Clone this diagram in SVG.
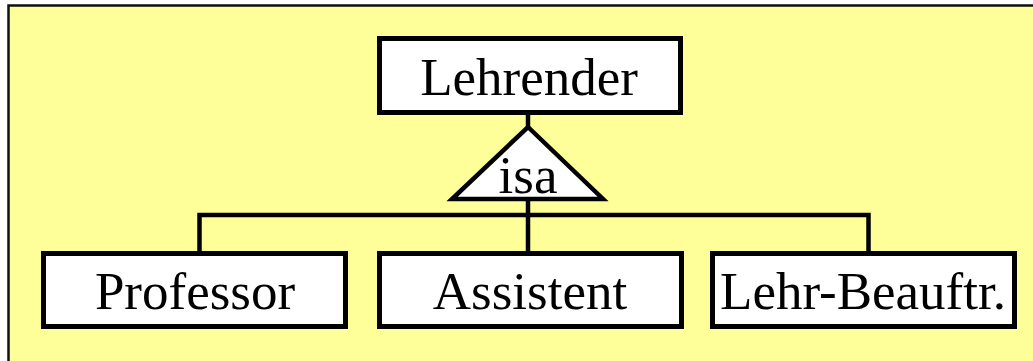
<svg xmlns="http://www.w3.org/2000/svg" width="1033" height="361" viewBox="0 0 1033 361">
<style>
.bg{fill:#FFFF99;stroke:#111;stroke-width:2.5}
.box{fill:#fff;stroke:#000;stroke-width:5}
.tri{fill:#fff;stroke:#000;stroke-width:4.5;stroke-linejoin:miter}
.ln{fill:none;stroke:#000;stroke-width:4.5}
text{font-family:"Liberation Serif","Times New Roman",serif;font-size:53px;fill:#000;text-anchor:middle}
</style>
<rect class="bg" x="8.5" y="5.5" width="1040" height="370"/>
<g id="connectors">
<line class="ln" x1="528" y1="115" x2="528" y2="127"/>
<line class="ln" x1="528" y1="200" x2="528" y2="251"/>
<polyline class="ln" points="199.5,251 199.5,215 868.5,215 868.5,251"/>
</g>
<g id="lehrender">
<rect class="box" x="379.5" y="38.5" width="301" height="74"/>
<text x="529" y="95">Lehrender</text>
</g>
<g id="isa">
<polygon class="tri" points="528,127 603,199 452,199"/>
<text x="528" y="193">isa</text>
</g>
<g id="professor">
<rect class="box" x="43.5" y="253.5" width="302" height="73"/>
<text x="195" y="309">Professor</text>
</g>
<g id="assistent">
<rect class="box" x="379.5" y="253.5" width="302" height="73"/>
<text x="530" y="309">Assistent</text>
</g>
<g id="lehrbeauftr">
<rect class="box" x="712.5" y="253.5" width="302" height="73"/>
<text x="863" y="309">Lehr-Beauftr.</text>
</g>
</svg>
